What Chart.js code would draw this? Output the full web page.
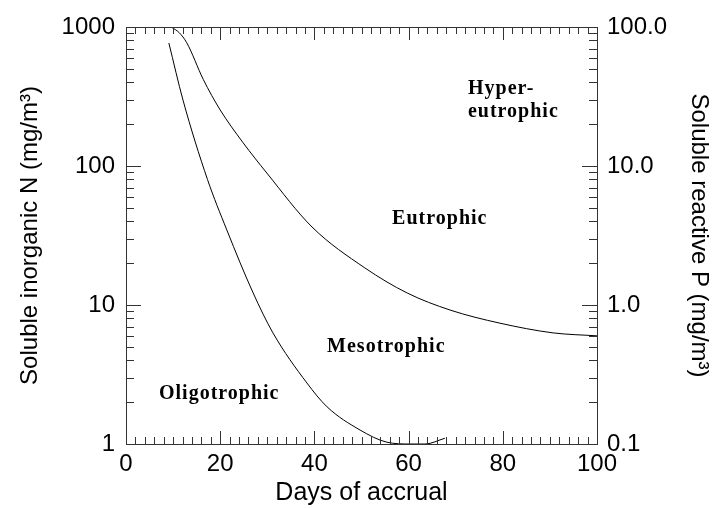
<!DOCTYPE html>
<html>
<head>
<meta charset="utf-8">
<script src="https://cdn.jsdelivr.net/npm/chart.js@4"></script>
<style>
html, body { margin: 0; padding: 0; background: #fff; }
</style>
</head>
<body>
<canvas id="trophicChart" width="720" height="508"></canvas>
<script>
// boundary eutrophic / mesotrophic
var upperDays = [9.6, 11.3, 12.9, 16.4, 20.0, 24.8, 29.9, 39.5, 50.7, 59.7, 68.8, 79.4, 90.7, 100];
var upperN = [1000, 910, 770, 420, 253, 148, 89, 36.4, 18.5, 12.2, 9.2, 7.4, 6.3, 6.0];

// boundary mesotrophic / oligotrophic
var lowerDays = [9.1, 12.1, 17.3, 21.4, 27.0, 31.2, 38.4, 42.7, 49.7, 55.4, 60.3, 63.5, 67.7];
var lowerN = [767, 298, 80, 34.7, 12.2, 6.3, 2.75, 1.85, 1.26, 1.03, 1.0, 1.0, 1.1];

var xTicks = [0, 20, 40, 60, 80, 100];
var nTicks = [1, 10, 100, 1000];
var pTicks = [0.1, 1, 10, 100];
var pTickLabels = ['0.1', '1.0', '10.0', '100.0'];

var zoneNames = ['Hyper-', 'eutrophic', 'Eutrophic', 'Mesotrophic', 'Oligotrophic'];
// where each zone name sits (days, N) - left edge, vertical middle
var zoneSpots = [[72.6, 358], [72.6, 245], [56.5, 41.6], [42.7, 5.0], [7.0, 2.3]];

var sans = { family: '"Liberation Sans", Arial, sans-serif', size: 24 };

function toPoints(xs, ys) {
    return xs.map((d, i) => ({ x: d, y: ys[i] }));
}

// box, inward ticks and the zone names
var framePlugin = {
    id: 'frame',
    afterDraw(chart) {
        var ctx = chart.ctx;
        var a = chart.chartArea;
        var xs = chart.scales.x;
        var ys = chart.scales.y;
        ctx.save();
        ctx.strokeStyle = '#333';
        ctx.lineWidth = 1;
        ctx.strokeRect(Math.round(a.left) + 0.5, Math.round(a.top) + 0.5,
            Math.round(a.right - a.left), Math.round(a.bottom - a.top));
        ctx.beginPath();
        for (var d = 0; d <= 100; d += 2) {
            var px = Math.round(xs.getPixelForValue(d)) + 0.5;
            var len = d % 20 === 0 ? 13 : 7;
            ctx.moveTo(px, a.bottom);
            ctx.lineTo(px, a.bottom - len);
            ctx.moveTo(px, a.top);
            ctx.lineTo(px, a.top + len);
        }
        for (var dec = 1; dec <= 1000; dec *= 10) {
            for (var m = 1; m < 10; m++) {
                var v = dec * m;
                if (v > 1000) break;
                var py = Math.round(ys.getPixelForValue(v)) + 0.5;
                var l = m === 1 ? 15 : 8;
                ctx.moveTo(a.left, py);
                ctx.lineTo(a.left + l, py);
                ctx.moveTo(a.right, py);
                ctx.lineTo(a.right - l, py);
            }
        }
        ctx.stroke();

        ctx.fillStyle = '#000';
        ctx.font = 'bold 20px "Liberation Serif", "Times New Roman", serif';
        ctx.letterSpacing = '1px';
        ctx.textAlign = 'left';
        ctx.textBaseline = 'middle';
        zoneNames.forEach((name, i) => {
            ctx.fillText(name, xs.getPixelForValue(zoneSpots[i][0]), ys.getPixelForValue(zoneSpots[i][1]));
        });
        ctx.restore();
    }
};

var line = {
    borderColor: '#000',
    borderWidth: 1,
    pointRadius: 0,
    fill: false,
    cubicInterpolationMode: 'monotone'
};

var ctx = document.getElementById('trophicChart').getContext('2d');
var trophicChart = new Chart(ctx, {
    type: 'line',
    data: {
        datasets: [
            Object.assign({ label: 'Eutrophic limit', data: toPoints(upperDays, upperN) }, line),
            Object.assign({ label: 'Oligotrophic limit', data: toPoints(lowerDays, lowerN) }, line)
        ]
    },
    options: {
        responsive: false,
        animation: false,
        layout: { padding: { top: 27, left: 0, right: 0, bottom: 0 } },
        plugins: { legend: { display: false }, tooltip: { enabled: false } },
        scales: {
            x: {
                type: 'linear',
                position: 'bottom',
                min: 0,
                max: 100,
                grid: { display: false, drawTicks: false },
                border: { display: false },
                afterBuildTicks: s => { s.ticks = xTicks.map(v => ({ value: v })); },
                afterFit: s => { s.height = 64; },
                ticks: { color: '#000', font: sans, padding: 6, maxRotation: 0, autoSkip: false },
                title: { display: true, text: 'Days of accrual', color: '#000', font: { family: sans.family, size: 25 }, padding: 0 }
            },
            y: {
                type: 'logarithmic',
                position: 'left',
                min: 1,
                max: 1000,
                grid: { display: false, drawTicks: false },
                border: { display: false },
                afterBuildTicks: s => { s.ticks = nTicks.map(v => ({ value: v })); },
                afterFit: s => { s.width = 126; },
                ticks: { color: '#000', font: sans, padding: 11, autoSkip: false, callback: v => String(v) },
                title: { display: true, text: 'Soluble inorganic N (mg/m³)', color: '#000', font: sans, padding: { top: 16, bottom: 0 } }
            },
            y1: {
                type: 'logarithmic',
                position: 'right',
                min: 0.1,
                max: 100,
                grid: { display: false, drawTicks: false },
                border: { display: false },
                afterBuildTicks: s => { s.ticks = pTicks.map(v => ({ value: v })); },
                afterFit: s => { s.width = 123; },
                ticks: { color: '#000', font: sans, padding: 10, autoSkip: false, callback: (v, i) => pTickLabels[i] },
                title: { display: true, text: 'Soluble reactive P (mg/m³)', color: '#000', font: sans, padding: { top: 7, bottom: 0 } }
            }
        }
    },
    plugins: [framePlugin]
});
</script>
</body>
</html>
